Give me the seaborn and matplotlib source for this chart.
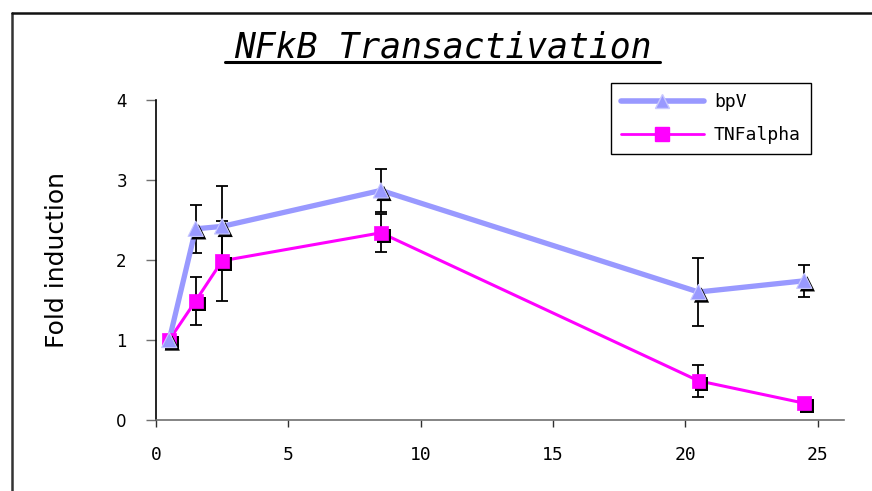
import matplotlib
matplotlib.use("Agg")
import matplotlib.pyplot as plt
import matplotlib.patheffects as pe
from matplotlib.lines import Line2D
import seaborn as sns
import pandas as pd
import numpy as np

# ---- data ----
time = [0.5, 1.5, 2.5, 8.5, 20.5, 24.5]
bpv = [1.0, 2.39, 2.42, 2.87, 1.60, 1.74]
bpv_err = [0.0, 0.30, 0.50, 0.27, 0.42, 0.20]
tnf = [1.0, 1.49, 1.99, 2.34, 0.49, 0.21]
tnf_err = [0.0, 0.30, 0.50, 0.24, 0.20, 0.0]
series_names = ["bpV", "TNFalpha"]
x_ticks = [0, 5, 10, 15, 20, 25]
y_ticks = [0, 1, 2, 3, 4]

BPV_COL = "#9999FF"
TNF_COL = "#FF00FF"

sns.set_theme(style="white")
plt.rcParams["font.family"] = ["DejaVu Sans"]
for k in ["text.color", "axes.labelcolor", "xtick.color", "ytick.color"]:
    plt.rcParams[k] = "black"

MONO = ["DejaVu Sans Mono"]

df_bpv = pd.DataFrame({"time": time, "fold": bpv, "series": series_names[0]})
df_tnf = pd.DataFrame({"time": time, "fold": tnf, "series": series_names[1]})

fig = plt.figure(figsize=(8.72, 4.91), dpi=100)
ax = fig.add_axes([156 / 872, 1 - 420 / 491, (844 - 156) / 872, (420 - 100) / 491])

# error bars (behind)
ax.errorbar(time, bpv, yerr=bpv_err, fmt="none", ecolor="black", elinewidth=1.3,
            capsize=4.5, capthick=1.3, zorder=1)
ax.errorbar(time, tnf, yerr=tnf_err, fmt="none", ecolor="black", elinewidth=1.3,
            capsize=4.5, capthick=1.3, zorder=1)

# lines
sns.lineplot(data=df_tnf, x="time", y="fold", color=TNF_COL, linewidth=2.2,
             ax=ax, legend=False, zorder=2)
sns.lineplot(data=df_bpv, x="time", y="fold", color=BPV_COL, linewidth=3.8,
             ax=ax, legend=False, zorder=3)

shadow = [pe.SimplePatchShadow(offset=(2.2, -2.2), shadow_rgbFace="black", alpha=1.0),
          pe.Normal()]

sns.scatterplot(data=df_tnf, x="time", y="fold", marker="s", s=100, color=TNF_COL,
                edgecolor=TNF_COL, linewidth=0.5, ax=ax, legend=False, zorder=4)
ax.collections[-1].set_path_effects(shadow)
sns.scatterplot(data=df_bpv, x="time", y="fold", marker="^", s=120, color=BPV_COL,
                edgecolor="#C8C8FF", linewidth=0.8, ax=ax, legend=False, zorder=5)
ax.collections[-1].set_path_effects(shadow)

ax.set_xlim(0, 26)
ax.set_ylim(0, 4)
ax.set_xticks(x_ticks)
ax.set_yticks(y_ticks)
ax.set_xticklabels([str(v) for v in x_ticks], fontsize=13, family=MONO)
ax.set_yticklabels([str(v) for v in y_ticks], fontsize=12)
ax.set_xlabel("")
ax.set_ylabel("Fold induction", fontsize=18, labelpad=34)

for s in ["top", "right"]:
    ax.spines[s].set_visible(False)
ax.spines["left"].set_color("black")
ax.spines["left"].set_linewidth(1.2)
ax.spines["bottom"].set_color("#707070")
ax.spines["bottom"].set_linewidth(1.2)
ax.tick_params(axis="y", direction="out", length=7, width=1.0, color="#707070",
               left=True, pad=14)
ax.tick_params(axis="x", direction="out", length=5, width=1.0, color="#303030",
               bottom=True, pad=14)
ax.grid(False)

# legend
handles = [
    Line2D([], [], color=BPV_COL, linewidth=4, marker="^", markersize=10,
           markerfacecolor=BPV_COL, markeredgecolor="#C8C8FF"),
    Line2D([], [], color=TNF_COL, linewidth=2, marker="s", markersize=10,
           markerfacecolor=TNF_COL, markeredgecolor=TNF_COL),
]
leg = ax.legend(handles, series_names, loc="upper left",
                bbox_to_anchor=(455 / 688, (420 - 83) / 320),
                prop={"family": MONO, "size": 13},
                frameon=True, fancybox=False, framealpha=1, edgecolor="black",
                handlelength=4.6, labelspacing=0.85, borderpad=0.55,
                handletextpad=0.55, borderaxespad=0)
leg.get_frame().set_linewidth(1.0)

# title with underline
fig.text(443 / 872, 1 - 48 / 491, "NFkB Transactivation", fontsize=25,
         style="italic", family=MONO, ha="center", va="center")
fig.add_artist(Line2D([225 / 872, 660 / 872], [1 - 62 / 491, 1 - 62 / 491],
                      color="black", linewidth=2.2))

# figure frame (left and top edges)
fig.add_artist(Line2D([12 / 872, 12 / 872], [0, 1 - 13 / 491], color="#333333", linewidth=1.8))
fig.add_artist(Line2D([12 / 872, 1], [1 - 13 / 491, 1 - 13 / 491], color="#111111", linewidth=1.8))

fig.savefig("out.png", dpi=100)
